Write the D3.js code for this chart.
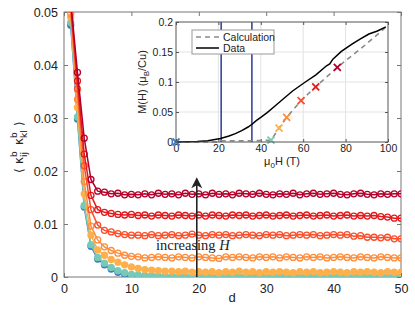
<!DOCTYPE html>
<html>
<head>
<meta charset="utf-8">
<script src="https://cdn.jsdelivr.net/npm/d3@7"></script>
<style>
  body { margin: 0; background: #fff; }
</style>
</head>
<body>
<div id="chart"></div>
<script>
// ---- main plot data: correlation vs distance d, one series per field ----
var dist = d3.range(1, 51);

var blueSeries = [0.0475, 0.0298, 0.0132, 0.0058, 0.0034, 0.0023, 0.0015, 0.0009, 0.0005, 0.0003,
  0.0002, 0.0001, 0.0001, 0, 0, 0, 0, 0, 0, 0, 0, 0, 0, 0, 0, 0, 0, 0, 0, 0,
  0, 0, 0, 0, 0, 0, 0, 0, 0, 0, 0, 0, 0, 0, 0, 0, 0, 0, 0, 0];
var tealSeries = [0.048, 0.0302, 0.0135, 0.0061, 0.0037, 0.0026, 0.0018, 0.0012, 0.0008, 0.0005,
  0.0004, 0.0003, 0.0003, 0.0002, 0.0002, 0.0001, 0.0002, 0.0001, 0.0002, 0.0001,
  0.0002, 0.0001, 0.0002, 0.0002, 0.0001, 0.0002, 0.0001, 0.0002, 0.0001, 0.0002,
  0.0001, 0.0002, 0.0001, 0.0002, 0.0002, 0.0001, 0.0002, 0.0001, 0.0002, 0.0001,
  0.0002, 0.0001, 0.0002, 0.0001, 0.0002, 0.0001, 0.0002, 0.0001, 0.0002, 0.0002];
var lightOrangeSeries = [0.049, 0.032, 0.0157, 0.0079, 0.0051, 0.0041, 0.0033, 0.0028, 0.0023, 0.0019,
  0.0016, 0.0014, 0.0013, 0.0012, 0.0011, 0.0011, 0.0010, 0.0011, 0.0009, 0.0010,
  0.0009, 0.0010, 0.0008, 0.0010, 0.0009, 0.0011, 0.0009, 0.0010, 0.0008, 0.0010,
  0.0009, 0.0010, 0.0009, 0.0008, 0.0010, 0.0009, 0.0010, 0.0008, 0.0009, 0.0010,
  0.0009, 0.0008, 0.0010, 0.0009, 0.0010, 0.0009, 0.0008, 0.0010, 0.0009, 0.0009];
var orangeSeries = [0.0497, 0.0335, 0.018, 0.0096, 0.007, 0.0057, 0.005, 0.0045, 0.0041, 0.0039,
  0.0038, 0.0036, 0.0037, 0.0038, 0.0037, 0.0036, 0.0038, 0.0037, 0.0036, 0.0038,
  0.0037, 0.0036, 0.0035, 0.0038, 0.0037, 0.0038, 0.0037, 0.0036, 0.0038, 0.0037,
  0.0038, 0.0036, 0.0038, 0.0037, 0.0036, 0.0038, 0.0037, 0.0038, 0.0036, 0.0037,
  0.0038, 0.0037, 0.0036, 0.0038, 0.0037, 0.0036, 0.0038, 0.0037, 0.0036, 0.0036];
var orangeRedSeries = [0.0505, 0.0355, 0.021, 0.0127, 0.0098, 0.0088, 0.0085, 0.0082, 0.008, 0.0079,
  0.0079, 0.0078, 0.0080, 0.0078, 0.0079, 0.0080, 0.0078, 0.0079, 0.0081, 0.0079,
  0.0078, 0.0080, 0.0079, 0.0080, 0.0078, 0.0079, 0.0080, 0.0079, 0.0078, 0.0080,
  0.0079, 0.0080, 0.0078, 0.0079, 0.0080, 0.0079, 0.0080, 0.0078, 0.0079, 0.0080,
  0.0079, 0.0080, 0.0077, 0.0078, 0.0075, 0.0075, 0.0074, 0.0075, 0.0072, 0.0072];
var redSeries = [0.0515, 0.037, 0.0232, 0.0154, 0.0127, 0.0122, 0.012, 0.0118, 0.0117, 0.0118,
  0.0116, 0.0117, 0.0115, 0.0117, 0.0116, 0.0115, 0.0117, 0.0116, 0.0115, 0.0117,
  0.0115, 0.0117, 0.0116, 0.0115, 0.0117, 0.0116, 0.0117, 0.0115, 0.0116, 0.0117,
  0.0115, 0.0116, 0.0117, 0.0115, 0.0116, 0.0117, 0.0115, 0.0116, 0.0117, 0.0115,
  0.0116, 0.0117, 0.0115, 0.0116, 0.0115, 0.0116, 0.0114, 0.0113, 0.0111, 0.0111];
var darkRedSeries = [0.052, 0.0386, 0.0262, 0.0184, 0.0162, 0.016, 0.0157, 0.0158, 0.0155, 0.0156,
  0.0155, 0.0157, 0.0155, 0.0158, 0.0156, 0.0157, 0.0155, 0.0158, 0.0156, 0.0157,
  0.0155, 0.0158, 0.0156, 0.0157, 0.0155, 0.0158, 0.0157, 0.0156, 0.0158, 0.0156,
  0.0155, 0.0157, 0.0156, 0.0158, 0.0155, 0.0157, 0.0158, 0.0156, 0.0157, 0.0158,
  0.0156, 0.0155, 0.0157, 0.0158, 0.0156, 0.0155, 0.0157, 0.0156, 0.0157, 0.0157];

var mainSeries = [blueSeries, tealSeries, lightOrangeSeries, orangeSeries, orangeRedSeries, redSeries, darkRedSeries];
var seriesColors = ["#3a7dbf", "#78c9b7", "#fdb04b", "#fd8d3c", "#fc4e2a", "#e31a1c", "#b5002b"];
var filledMarker = [true, true, true, false, false, false, false];

var mainXTicks = [0, 10, 20, 30, 40, 50];
var mainYTicks = [0, 0.01, 0.02, 0.03, 0.04, 0.05];

// ---- inset data: magnetisation vs field ----
var dataH = [0, 5, 10, 15, 21, 25, 28, 31, 34, 36, 38, 40, 43, 46, 50, 55, 61, 66, 71, 72.5, 74, 78, 83, 87, 91, 95, 99];
var dataM = [0, 0.0005, 0.001, 0.002, 0.006, 0.010, 0.014, 0.019, 0.025, 0.030, 0.036, 0.041, 0.049, 0.058,
  0.070, 0.085, 0.100, 0.112, 0.127, 0.130, 0.138, 0.151, 0.163, 0.172, 0.180, 0.185, 0.192];
var calcH = [0, 20, 21, 36, 44.8, 48.6, 52.2, 59, 65.9, 76.1, 88, 98.6];
var calcM = [0, 0, 0.002, 0.002, 0.003, 0.023, 0.041, 0.069, 0.092, 0.1245, 0.158, 0.19];
var fieldH = [0, 44.8, 48.6, 52.2, 59, 65.9, 76.1];
var fieldM = [0, 0.003, 0.023, 0.041, 0.069, 0.092, 0.1245];
var transitionH = [21.3, 35.8];

var insetXTicks = [0, 20, 40, 60, 80, 100];
var insetYTicks = [0, 0.05, 0.1, 0.15, 0.2];

var sans = "Liberation Sans, Arial, sans-serif";

var svg = d3.select("#chart").append("svg")
  .attr("width", 415)
  .attr("height", 309)
  .style("font-family", sans);

// main scales
var x = d3.scaleLinear().domain([0, 50]).range([64, 401]);
var y = d3.scaleLinear().domain([0, 0.05]).range([277, 12]);

svg.append("clipPath").attr("id", "mainClip")
  .append("rect")
  .attr("x", 64).attr("y", 12)
  .attr("width", 337).attr("height", 265);

var axisColor = "#777";
var fmt = d3.format("~g");

// main axes (ticks inward)
var gx = svg.append("g")
  .attr("transform", "translate(0,277)")
  .call(d3.axisBottom(x).tickValues(mainXTicks).tickFormat(fmt).tickSize(-4).tickPadding(7));
var gxTop = svg.append("g")
  .attr("transform", "translate(0,12)")
  .call(d3.axisTop(x).tickValues(mainXTicks).tickFormat("").tickSize(-4));
var gy = svg.append("g")
  .attr("transform", "translate(64,0)")
  .call(d3.axisLeft(y).tickValues(mainYTicks).tickFormat(fmt).tickSize(-4).tickPadding(6));
var gyRight = svg.append("g")
  .attr("transform", "translate(401,0)")
  .call(d3.axisRight(y).tickValues(mainYTicks).tickFormat("").tickSize(-4));

[gx, gxTop, gy, gyRight].forEach(function(g) {
  g.select(".domain").remove();
  g.selectAll("line").attr("stroke", axisColor);
  g.selectAll("text").attr("font-size", "12.5px").attr("fill", "#222")
    .attr("font-family", sans);
});

svg.append("rect")
  .attr("x", 64).attr("y", 12)
  .attr("width", 337).attr("height", 265)
  .attr("fill", "none")
  .attr("stroke", axisColor)
  .attr("stroke-width", 1);

// series
var plotGroup = svg.append("g").attr("clip-path", "url(#mainClip)");

var line = d3.line()
  .x(function(d) { return x(d[0]); })
  .y(function(d) { return y(d[1]); });

mainSeries.forEach(function(vals, i) {
  var pts = dist.map(function(d, j) { return [d, vals[j]]; });
  var g = plotGroup.append("g");
  g.append("path")
    .datum(pts)
    .attr("d", line)
    .attr("fill", "none")
    .attr("stroke", seriesColors[i])
    .attr("stroke-width", 1.5);
  g.selectAll("circle")
    .data(pts)
    .enter()
    .append("circle")
    .attr("cx", function(d) { return x(d[0]); })
    .attr("cy", function(d) { return y(d[1]); })
    .attr("r", 3)
    .attr("fill", filledMarker[i] ? seriesColors[i] : "none")
    .attr("stroke", seriesColors[i])
    .attr("stroke-width", 1.3);
});

// arrow "increasing H"
var arrowX = x(19.7);
svg.append("line")
  .attr("x1", arrowX).attr("x2", arrowX)
  .attr("y1", y(0)).attr("y2", y(0.0178))
  .attr("stroke", "#222")
  .attr("stroke-width", 1.6);
var tipY = y(0.0188);
svg.append("path")
  .attr("d", "M" + arrowX + "," + tipY +
    " L" + (arrowX + 5.5) + "," + (tipY + 11) +
    " L" + arrowX + "," + (tipY + 8) +
    " L" + (arrowX - 5.5) + "," + (tipY + 11) + " Z")
  .attr("fill", "#222");

var note = svg.append("text")
  .attr("x", 156).attr("y", 250)
  .style("font-family", "Liberation Serif, Times New Roman, serif")
  .attr("font-size", "14.5px")
  .attr("fill", "#222");
note.append("tspan").text("increasing ");
note.append("tspan").attr("font-style", "italic").text("H");

// axis titles
svg.append("text")
  .attr("x", 232).attr("y", 302)
  .attr("text-anchor", "middle")
  .attr("font-size", "13px")
  .attr("fill", "#222")
  .text("d");

var yTitle = svg.append("g")
  .attr("transform", "translate(23,145) rotate(-90)")
  .attr("fill", "#222");
var yPieces = [
  { t: "\u27E8", x: -28, y: 0, s: 12 },
  { t: "\u03BA", x: -19, y: 0, s: 12 },
  { t: "b", x: -12, y: -6, s: 9 },
  { t: "ij", x: -12, y: 4, s: 9 },
  { t: "\u03BA", x: 0, y: 0, s: 12 },
  { t: "b", x: 7, y: -6, s: 9 },
  { t: "kl", x: 7, y: 4, s: 9 },
  { t: "\u27E9", x: 19, y: 0, s: 12 }
];
yPieces.forEach(function(p) {
  yTitle.append("text")
    .attr("x", p.x).attr("y", p.y)
    .attr("font-size", p.s + "px")
    .style("font-family", "DejaVu Sans, Liberation Sans, sans-serif")
    .text(p.t);
});

// ---- inset ----
var ix = d3.scaleLinear().domain([0, 100]).range([176, 388]);
var iy = d3.scaleLinear().domain([0, 0.2]).range([142, 22]);

var inset = svg.append("g");
inset.append("rect")
  .attr("x", 176).attr("y", 22)
  .attr("width", 212).attr("height", 120)
  .attr("fill", "#fff");

// grid
inset.append("g").selectAll("line")
  .data(insetXTicks.slice(1, -1))
  .enter().append("line")
  .attr("x1", function(d) { return ix(d); })
  .attr("x2", function(d) { return ix(d); })
  .attr("y1", 22).attr("y2", 142)
  .attr("stroke", "#e3e3e3");
inset.append("g").selectAll("line")
  .data(insetYTicks.slice(1, -1))
  .enter().append("line")
  .attr("y1", function(d) { return iy(d); })
  .attr("y2", function(d) { return iy(d); })
  .attr("x1", 176).attr("x2", 388)
  .attr("stroke", "#e3e3e3");

var insetAxisColor = "#555";
var igx = inset.append("g")
  .attr("transform", "translate(0,142)")
  .call(d3.axisBottom(ix).tickValues(insetXTicks).tickFormat(fmt).tickSize(-3).tickPadding(3));
var igxTop = inset.append("g")
  .attr("transform", "translate(0,22)")
  .call(d3.axisTop(ix).tickValues(insetXTicks).tickFormat("").tickSize(-3));
var igy = inset.append("g")
  .attr("transform", "translate(176,0)")
  .call(d3.axisLeft(iy).tickValues(insetYTicks).tickFormat(fmt).tickSize(-3).tickPadding(3));
var igyRight = inset.append("g")
  .attr("transform", "translate(388,0)")
  .call(d3.axisRight(iy).tickValues(insetYTicks).tickFormat("").tickSize(-3));

[igx, igxTop, igy, igyRight].forEach(function(g) {
  g.select(".domain").remove();
  g.selectAll("line").attr("stroke", insetAxisColor);
  g.selectAll("text").attr("font-size", "10.5px").attr("fill", "#222")
    .attr("font-family", sans);
});

// transition lines
inset.selectAll(".trans")
  .data(transitionH)
  .enter().append("line")
  .attr("x1", function(d) { return ix(d); })
  .attr("x2", function(d) { return ix(d); })
  .attr("y1", iy(0)).attr("y2", iy(0.2))
  .attr("stroke", "#2a3a98")
  .attr("stroke-width", 1.5);

var iline = d3.line()
  .x(function(d) { return ix(d[0]); })
  .y(function(d) { return iy(d[1]); });

inset.append("path")
  .datum(calcH.map(function(h, i) { return [h, calcM[i]]; }))
  .attr("d", iline)
  .attr("fill", "none")
  .attr("stroke", "#8a8a8a")
  .attr("stroke-width", 1.6)
  .attr("stroke-dasharray", "5,4");

inset.append("path")
  .datum(dataH.map(function(h, i) { return [h, dataM[i]]; }))
  .attr("d", iline)
  .attr("fill", "none")
  .attr("stroke", "#000")
  .attr("stroke-width", 1.5);

// field markers (x)
fieldH.forEach(function(h, i) {
  var cx = ix(h), cy = iy(fieldM[i]), s = 3.5;
  inset.append("path")
    .attr("d", "M" + (cx - s) + "," + (cy - s) + " L" + (cx + s) + "," + (cy + s) +
      " M" + (cx - s) + "," + (cy + s) + " L" + (cx + s) + "," + (cy - s))
    .attr("stroke", seriesColors[i])
    .attr("stroke-width", 1.8);
});

inset.append("rect")
  .attr("x", 176).attr("y", 22)
  .attr("width", 212).attr("height", 120)
  .attr("fill", "none")
  .attr("stroke", insetAxisColor);

// legend
var legend = inset.append("g");
legend.append("rect")
  .attr("x", 192).attr("y", 30)
  .attr("width", 82).attr("height", 24)
  .attr("fill", "#fff")
  .attr("stroke", "#999");
legend.append("line")
  .attr("x1", 196).attr("x2", 219).attr("y1", 37).attr("y2", 37)
  .attr("stroke", "#8a8a8a").attr("stroke-width", 1.6).attr("stroke-dasharray", "5,4");
legend.append("line")
  .attr("x1", 196).attr("x2", 219).attr("y1", 48).attr("y2", 48)
  .attr("stroke", "#000").attr("stroke-width", 1.5);
legend.append("text")
  .attr("x", 223).attr("y", 40.5)
  .attr("font-size", "10.5px").attr("fill", "#222")
  .text("Calculation");
legend.append("text")
  .attr("x", 223).attr("y", 51.5)
  .attr("font-size", "10.5px").attr("fill", "#222")
  .text("Data");

// inset axis titles
var ixTitle = inset.append("text")
  .attr("x", 282).attr("y", 165)
  .attr("text-anchor", "middle")
  .attr("font-size", "11px")
  .attr("fill", "#222");
ixTitle.append("tspan").text("\u03BC");
ixTitle.append("tspan").attr("font-size", "8px").attr("dy", 3).text("0");
ixTitle.append("tspan").attr("dy", -3).text("H (T)");

var iyTitle = inset.append("text")
  .attr("transform", "translate(146,82) rotate(-90)")
  .attr("text-anchor", "middle")
  .attr("font-size", "11px")
  .attr("fill", "#222");
iyTitle.append("tspan").text("M(H) (\u03BC");
iyTitle.append("tspan").attr("font-size", "8px").attr("dy", 3).text("B");
iyTitle.append("tspan").attr("dy", -3).text("/Cu)");
</script>
</body>
</html>
